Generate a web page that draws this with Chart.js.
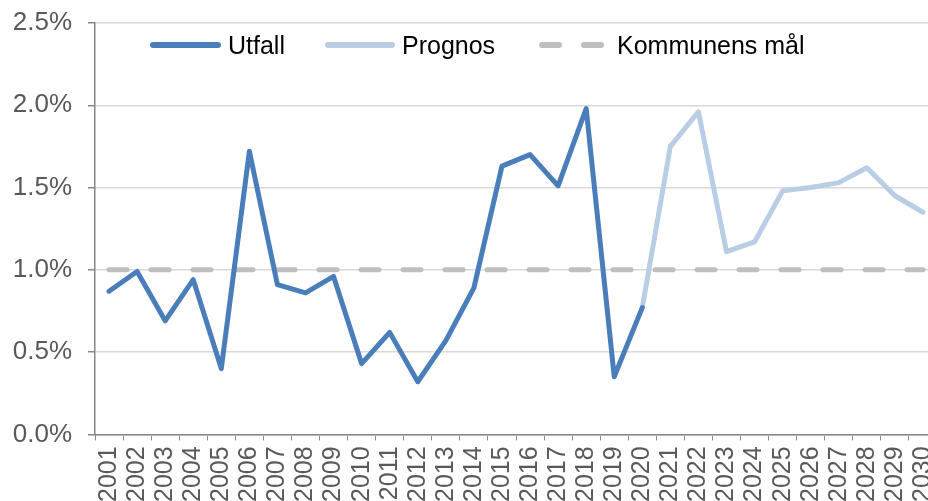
<!DOCTYPE html>
<html>
<head>
<meta charset="utf-8">
<script src="https://cdn.jsdelivr.net/npm/chart.js@4/dist/chart.umd.min.js"></script>
<style>
  html, body { margin: 0; padding: 0; background: #fff; overflow: hidden; }
  #wrap { position: relative; width: 928px; height: 501px; overflow: hidden; }
  .legend { position: absolute; top: 0; left: 0; font-family: "Liberation Sans", Arial, sans-serif; font-size: 25px; color: #000; }
  .item { position: absolute; top: 30px; height: 30px; line-height: 30px; white-space: nowrap; }
  .swatch { position: absolute; top: 12px; height: 6px; border-radius: 3px; }
  .label { position: absolute; top: 0; }
</style>
</head>
<body>
<div id="wrap">
  <canvas id="chart" width="937" height="508"></canvas>
  <div class="legend" id="legend"></div>
</div>
<script>
(function () {
  'use strict';

  const years = ['2001', '2002', '2003', '2004', '2005', '2006', '2007', '2008', '2009', '2010',
    '2011', '2012', '2013', '2014', '2015', '2016', '2017', '2018', '2019', '2020',
    '2021', '2022', '2023', '2024', '2025', '2026', '2027', '2028', '2029', '2030'];

  // percent values
  const utfall = [0.87, 0.99, 0.69, 0.94, 0.40, 1.72, 0.91, 0.86, 0.96, 0.43,
    0.62, 0.32, 0.57, 0.89, 1.63, 1.70, 1.51, 1.98, 0.35, 0.77,
    null, null, null, null, null, null, null, null, null, null];

  const prognos = [null, null, null, null, null, null, null, null, null, null,
    null, null, null, null, null, null, null, null, null, 0.77,
    1.75, 1.96, 1.11, 1.17, 1.48, 1.50, 1.53, 1.62, 1.45, 1.35];

  const mal = years.map(() => 1.0);

  const yTicks = [0, 0.5, 1.0, 1.5, 2.0, 2.5];

  const colors = { utfall: '#4a7ebb', prognos: '#b9cde5', mal: '#bfbfbf', axis: '#868686', grid: '#d9d9d9', text: '#595959' };
  const font = "'Liberation Sans', Arial, sans-serif";

  const legendItems = [
    { label: 'Utfall', color: colors.utfall, x: 150, w: 71, textX: 228 },
    { label: 'Prognos', color: colors.prognos, x: 325, w: 70, textX: 402 },
    { label: 'Kommunens mål', color: colors.mal, x: 539, w: 64, textX: 617, dashed: true }
  ];

  const legend = document.getElementById('legend');
  legendItems.forEach(it => {
    const d = document.createElement('div');
    d.className = 'item';
    d.style.left = it.x + 'px';
    if (it.dashed) {
      [0, 42].forEach(off => {
        const s = document.createElement('span');
        s.className = 'swatch';
        s.style.left = off + 'px';
        s.style.width = '23px';
        s.style.background = it.color;
        d.appendChild(s);
      });
    } else {
      const s = document.createElement('span');
      s.className = 'swatch';
      s.style.left = '0px';
      s.style.width = it.w + 'px';
      s.style.background = it.color;
      d.appendChild(s);
    }
    const t = document.createElement('span');
    t.className = 'label';
    t.style.left = (it.textX - it.x) + 'px';
    t.textContent = it.label;
    d.appendChild(t);
    legend.appendChild(d);
  });

  new Chart(document.getElementById('chart'), {
    type: 'line',
    data: {
      labels: years,
      datasets: [
        { label: 'Utfall', data: utfall, borderColor: colors.utfall, borderWidth: 5, pointRadius: 0, borderJoinStyle: 'round', borderCapStyle: 'round', spanGaps: false },
        { label: 'Prognos', data: prognos, borderColor: colors.prognos, borderWidth: 5, pointRadius: 0, borderJoinStyle: 'round', borderCapStyle: 'round', spanGaps: false },
        { label: 'Kommunens mål', data: mal, borderColor: colors.mal, borderWidth: 5, pointRadius: 0, borderDash: [18, 24], borderCapStyle: 'round' }
      ]
    },
    options: {
      responsive: false,
      animation: false,
      layout: { padding: { top: 23, left: 0, right: 0, bottom: 0 } },
      plugins: { legend: { display: false }, tooltip: { enabled: false } },
      scales: {
        x: {
          offset: true,
          grid: { offset: true, drawOnChartArea: false, drawTicks: true, tickLength: 6, tickColor: colors.axis, tickWidth: 1 },
          border: { color: colors.axis, width: 1.5 },
          ticks: { color: colors.text, font: { family: font, size: 25 }, minRotation: 90, maxRotation: 90, padding: 6, autoSkip: false },
          afterFit(scale) { scale.paddingLeft = 0; scale.paddingRight = 0; }
        },
        y: {
          min: 0,
          max: 2.5,
          afterBuildTicks(scale) { scale.ticks = yTicks.map(v => ({ value: v })); },
          grid: { color: colors.grid, lineWidth: 1.5, tickLength: 7, tickColor: colors.axis },
          border: { color: colors.axis, width: 1.5 },
          ticks: { color: colors.text, font: { family: font, size: 26 }, padding: 16, callback: v => v.toFixed(1) + '%' },
          afterFit(scale) { scale.width = 95; scale.paddingTop = 0; scale.paddingBottom = 0; }
        }
      }
    }
  });
})();
</script>
</body>
</html>
